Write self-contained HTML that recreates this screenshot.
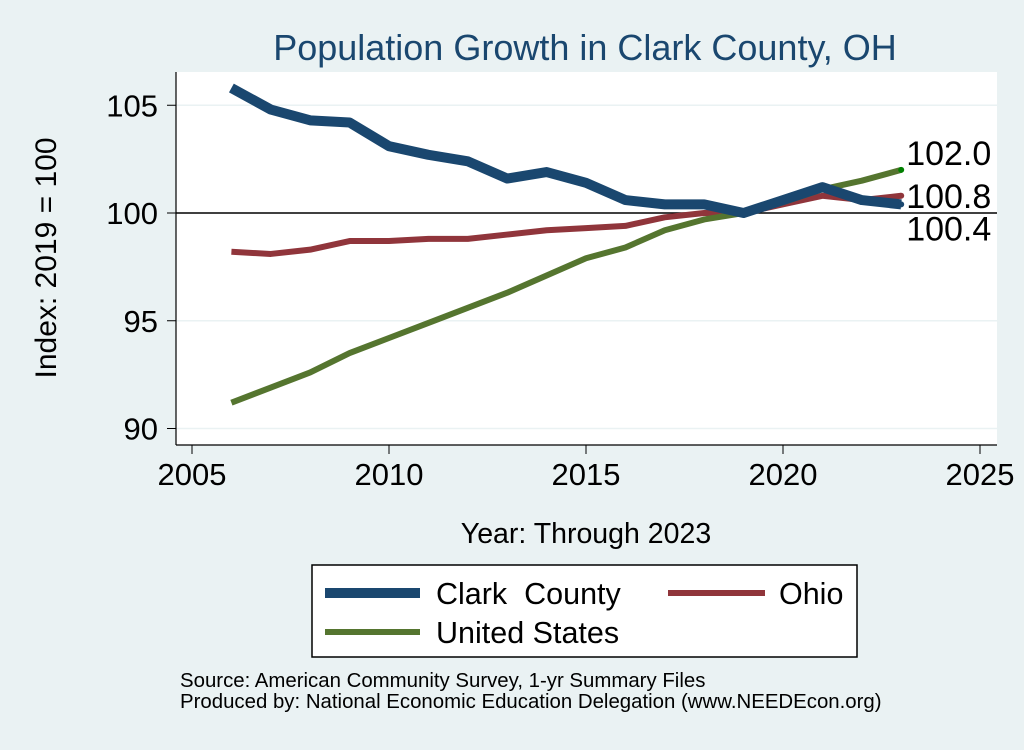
<!DOCTYPE html>
<html><head><meta charset="utf-8"><style>
body{margin:0;background:#eaf2f3;font-family:"Liberation Sans",sans-serif;}
svg text{font-family:"Liberation Sans",sans-serif;}
</style></head><body>
<svg width="1024" height="745" xmlns="http://www.w3.org/2000/svg">
<rect x="0" y="0" width="1024" height="745" fill="#eaf2f3"/>
<text x="585" y="60" font-size="36" fill="#1a476f" text-anchor="middle">Population Growth in Clark County, OH</text>
<rect x="176" y="72" width="821" height="373" fill="#fff"/>
<g id="grid"></g>
<g id="axes"></g>
<g id="series"></g>
<text transform="translate(56,258) rotate(-90)" font-size="30" text-anchor="middle">Index: 2019 = 100</text>
<text x="586" y="543" font-size="28.5" text-anchor="middle">Year: Through 2023</text>
<g>
<rect x="312" y="565" width="545" height="92" fill="#fff" stroke="#000" stroke-width="1.5"/>
<line x1="325" y1="593" x2="420" y2="593" stroke="#1a476f" stroke-width="10"/>
<text x="436" y="604" font-size="30.5" xml:space="preserve" style="white-space:pre">Clark  County</text>
<line x1="668" y1="593" x2="765" y2="593" stroke="#90353b" stroke-width="6"/>
<text x="779" y="604" font-size="30.5">Ohio</text>
<line x1="325" y1="632" x2="420" y2="632" stroke="#55752f" stroke-width="6"/>
<text x="436" y="643" font-size="30.5">United States</text>
</g>
<text x="180" y="687" font-size="20.4">Source: American Community Survey, 1-yr Summary Files</text>
<text x="180" y="708" font-size="20.4">Produced by: National Economic Education Delegation (www.NEEDEcon.org)</text>
</svg>
<script>
const years=[2006,2007,2008,2009,2010,2011,2012,2013,2014,2015,2016,2017,2018,2019,2020,2021,2022,2023];
const clark=[105.8,104.8,104.3,104.2,103.1,102.7,102.4,101.6,101.9,101.4,100.6,100.4,100.4,100.0,100.6,101.2,100.6,100.4];
const ohio=[98.2,98.1,98.3,98.7,98.7,98.8,98.8,99.0,99.2,99.3,99.4,99.8,100.0,100.0,100.4,100.8,100.6,100.8];
const us=[91.2,91.9,92.6,93.5,94.2,94.9,95.6,96.3,97.1,97.9,98.4,99.2,99.7,100.0,100.5,101.1,101.5,102.0];
const xTicks=[2005,2010,2015,2020,2025];
const yTicks=[90,95,100,105];
const NS="http://www.w3.org/2000/svg";
const X=v=>192+(v-2005)*39.4;
const Y=v=>213-(v-100)*21.55;
function mk(tag,attrs,parent){const e=document.createElementNS(NS,tag);for(const k in attrs)e.setAttribute(k,attrs[k]);document.getElementById(parent).appendChild(e);return e;}
let a=mk('line',{x1:176,y1:72,x2:176,y2:445,stroke:'#000','stroke-width':1.2},'axes');

a=mk('line',{x1:176,y1:445,x2:997,y2:445,stroke:'#000','stroke-width':1.2},'axes');

yTicks.forEach(t=>{
 let g=mk('line',{x1:176,x2:997,y1:Y(t),y2:Y(t),stroke:t==100?'#000':'#eaf2f3','stroke-width':1.5},'grid');
 
 let k=mk('line',{x1:167,x2:176,y1:Y(t),y2:Y(t),stroke:'#000'},'axes');
 
 let l=mk('text',{x:158,y:Y(t)+11,'font-size':31,'text-anchor':'end'},'axes');l.textContent=t;
 
});
xTicks.forEach(t=>{
 let k=mk('line',{x1:X(t),x2:X(t),y1:445,y2:454,stroke:'#000'},'axes');
 
 let l=mk('text',{x:X(t),y:485,'font-size':31,'text-anchor':'middle'},'axes');l.textContent=t;
 
});
function series(vals,color,w,name){
 const p=mk('polyline',{points:vals.map((v,i)=>X(years[i])+','+Y(v)).join(' '),fill:'none',stroke:color,'stroke-width':w,'stroke-linejoin':'round'},'series');
 
}
series(ohio,'#90353b',6,'ohio-line');
series(us,'#55752f',6,'us-line');
series(clark,'#1a476f',10,'clark-line');
function endLabel(vals,color,dy,name){
 const n=vals.length-1;
 const c=mk('circle',{cx:X(years[n]),cy:Y(vals[n]),r:3,fill:color},'series');
 
 const t=mk('text',{x:X(years[n])+5,y:Y(vals[n])+dy,'font-size':34},'series');
 t.textContent=vals[n].toFixed(1);
 
}
endLabel(us,'#008000',-5,'us-end');
endLabel(ohio,'#90353b',12,'ohio-end');
endLabel(clark,'#1a476f',36,'clark-end');
</script>
</body></html>
